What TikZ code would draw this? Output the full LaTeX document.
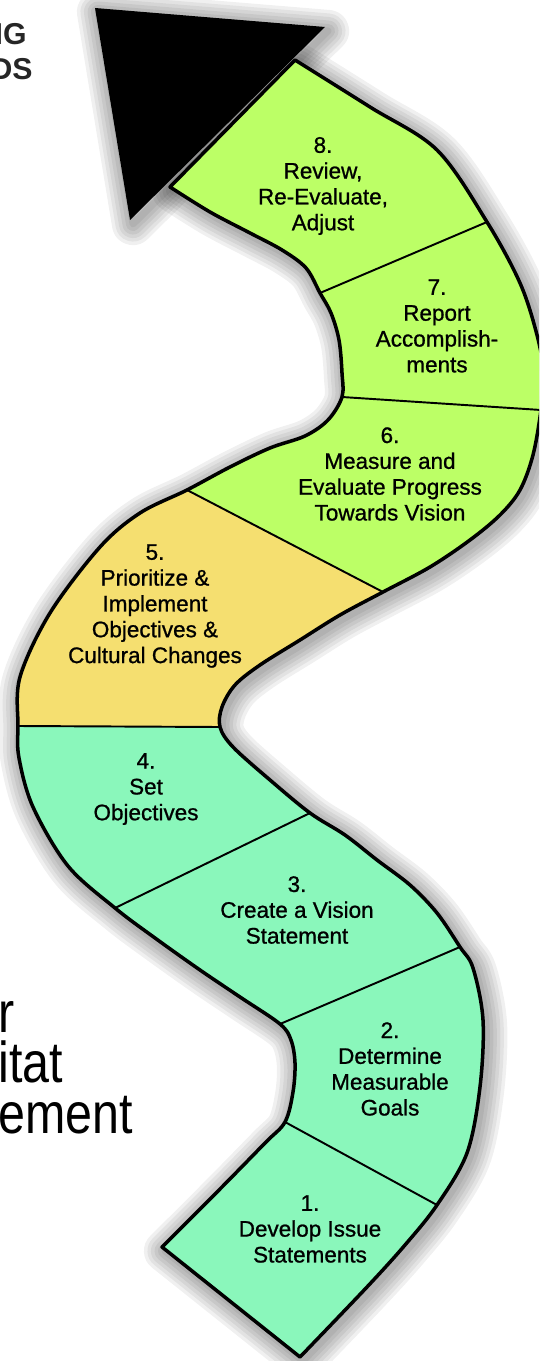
\documentclass[tikz,border=0pt]{standalone}
\usepackage{fontspec}
\setmainfont{Liberation Sans}
\newfontfamily\blurbfont[FakeStretch=0.84]{Liberation Sans}
\newfontfamily\stagefont[FakeBold=0.9]{Liberation Sans}
\usetikzlibrary{calc}
\definecolor{mint}{RGB}{138,247,187}
\definecolor{sand}{RGB}{245,223,112}
\definecolor{lime}{RGB}{188,255,102}
\definecolor{tagink}{RGB}{38,38,38}

% rim of the winding band: one rim up, the other rim back down
\newcommand{\ribbonpath}{plot[smooth, tension=0.55] coordinates {(a0) (220,1189) (265,1143) (a1) (293,1092) (295,1063) (291,1040) (a2) (240,997) (200,970) (155,938) (a3) (68,866) (33,807) (19,758) (a4) (20,677) (50,613) (100,547) (140,513) (a5) (230,467) (270,448) (305,436) (328,420) (a6) (342,373) (339,340) (331,313) (a7) (306,268) (282,250) (250,233) (210,212) (a8)}
  -- plot[smooth, tension=0.55] coordinates {(b8) (370,107) (437,150) (b7) (520,283) (537,335) (544,375) (b6) (533,455) (520,490) (500,515) (470,540) (430,567) (b5) (340,615) (300,640) (260,665) (235,685) (222,707) (b4) (233,747) (270,780) (b3) (345,835) (377,860) (410,885) (437,913) (b2) (473,968) (483,1020) (480,1087) (467,1153) (b1) (405,1245) (367,1287) (b0)}
  -- cycle}

\begin{document}
\begin{tikzpicture}[
    x=0.02cm, y=-0.02cm,
    stagelabel/.style={font=\stagefont\fontsize{12.8}{14.7}\selectfont, align=center, inner sep=0pt, text=black},
    blurb/.style={anchor=base west, inner sep=0pt, text height=0.5em, text depth=0pt,
                  font=\blurbfont\fontsize{32.8}{30}\selectfont},
    tag/.style={anchor=base east, inner sep=0pt, text=tagink, font=\bfseries\fontsize{17.2}{19}\selectfont},
    divider/.style={draw=black, line width=1.1pt},
    outline/.style={draw=black, line width=2pt, line join=round}
]
    \useasboundingbox (0,0) rectangle (539,1361);
    \clip (0,0) rectangle (539,1361);

    % ends of the dividers, a on one rim and b on the other
    \coordinate (a0) at (162,1247); \coordinate (b0) at (300,1357);
    \coordinate (a1) at (285,1122); \coordinate (b1) at (437,1205);
    \coordinate (a2) at (280,1024); \coordinate (b2) at (460,947);
    \coordinate (a3) at (115,908);  \coordinate (b3) at (310,813);
    \coordinate (a4) at (18,726);   \coordinate (b4) at (220,727);
    \coordinate (a5) at (187,490);  \coordinate (b5) at (383,592);
    \coordinate (a6) at (342,397);  \coordinate (b6) at (541,410);
    \coordinate (a7) at (320,293);  \coordinate (b7) at (487,222);
    \coordinate (a8) at (170,187);  \coordinate (b8) at (295,60);
    % arrow head
    \coordinate (tipL) at (95,8); \coordinate (tipR) at (325,27); \coordinate (tipB) at (130,220);

    % soft shadow all round, a little lower
    \begin{scope}[transform canvas={shift={(3,4)}}]
        \foreach \w in {24,20,16,12,8,4} {
            \path[draw=black, draw opacity=0.06, line width=\w pt, line join=round] \ribbonpath;
            \path[draw=black, draw opacity=0.06, line width=\w pt, line join=round] (tipL) -- (tipR) -- (tipB) -- cycle;
        }
    \end{scope}

    % band colours
    \begin{scope}
        \clip \ribbonpath;
        \fill[mint] (-20,-20) rectangle (600,1400);
        \fill[sand] (-20,-20) -- (620,-20) -- ($(a4)!3!(b4)$) -- ($(a4)!-0.3!(b4)$) -- cycle;
        \fill[lime] (-60,-20) -- (620,-20) -- ($(a5)!2.2!(b5)$) -- ($(a5)!-1.3!(b5)$) -- cycle;
    \end{scope}

    % dividers between the stages
    \foreach \k in {1,...,7} {
        \draw[divider] (a\k) -- (b\k);
    }
    \draw[outline] \ribbonpath;
    \fill[black] (tipL) -- (tipR) -- (tipB) -- cycle;

    % stage labels
    \node[stagelabel] (s1) at (310,1229) {1.\\Develop Issue\\Statements};
    \node[stagelabel] (s2) at (390,1069) {2.\\Determine\\Measurable\\Goals};
    \node[stagelabel] (s3) at (297,910) {3.\\Create a Vision\\Statement};
    \node[stagelabel] (s4) at (146,789) {4.\\Set\\Objectives};
    \node[stagelabel] (s5) at (155,606) {5.\\Prioritize \&\\Implement\\Objectives \&\\Cultural Changes};
    \node[stagelabel] (s6) at (390,474) {6.\\Measure and\\Evaluate Progress\\Towards Vision};
    \node[stagelabel] (s7) at (437,326) {7.\\Report\\Accomplish-\\ments};
    \node[stagelabel] (s8) at (323,186) {8.\\Review,\\Re-Evaluate,\\Adjust};

    % cut-off texts at the left edge
    \node[blurb] (frag1) at (-2,1032) {r};
    \node[blurb] (frag2) at (-2,1082) {itat};
    \node[blurb] (frag3) at (-2,1133) {ement};
    \node[tag] (tag1) at (27,45) {IG};
    \node[tag] (tag2) at (33,80) {DS};
\end{tikzpicture}
\end{document}
